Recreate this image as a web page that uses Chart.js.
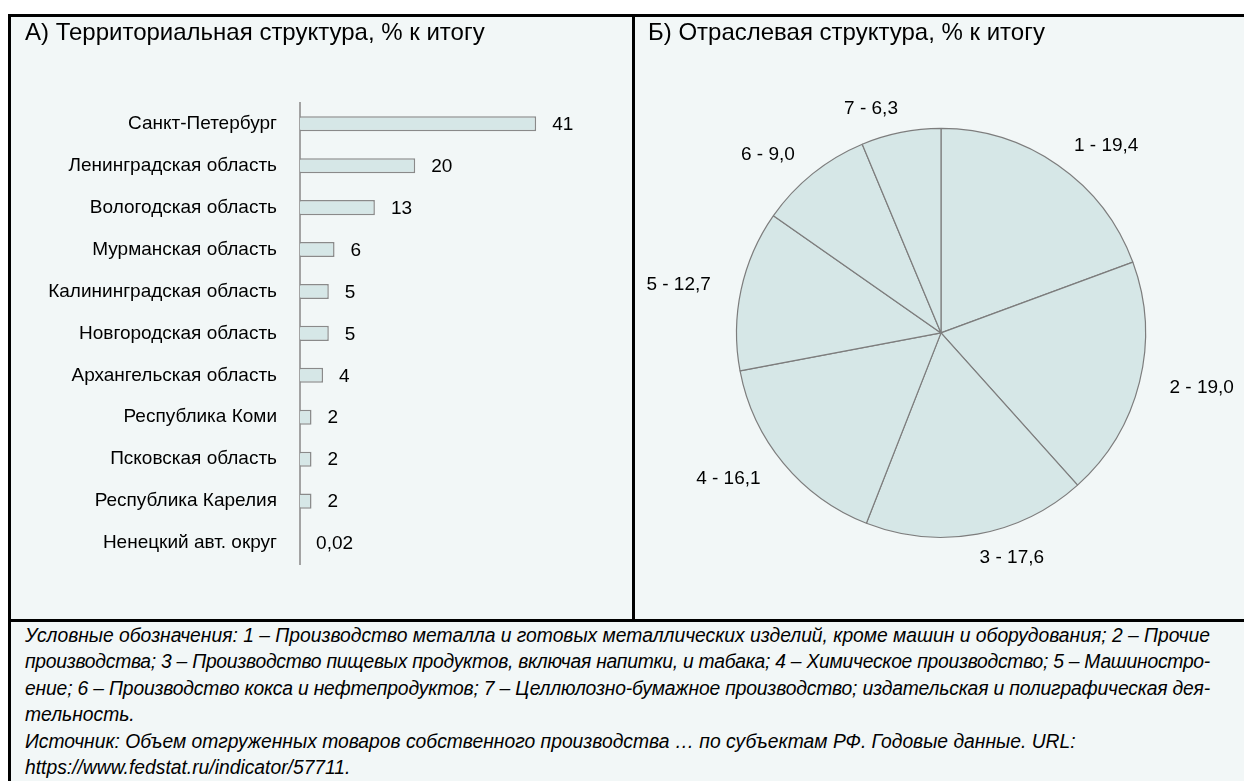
<!DOCTYPE html>
<html lang="ru">
<head>
<meta charset="utf-8">
<script src="https://cdn.jsdelivr.net/npm/chart.js@4.4.1/dist/chart.umd.min.js"></script>
<style>
  body { margin: 0; background: #fff; font-family: "Liberation Sans", Arial, sans-serif; }
  #page { position: relative; width: 1244px; height: 781px; overflow: hidden; }
  #frame { position: absolute; left: 8px; top: 14px; width: 1260px; height: 800px;
           border-left: 3px solid #000; border-top: 3px solid #000; background: #f2f7f7; }
  #divV { position: absolute; left: 632px; top: 14px; width: 3px; height: 608px; background: #000; }
  #divH { position: absolute; left: 8px; top: 619px; width: 1260px; height: 3px; background: #000; }
  #regionChart { position: absolute; left: 11px; top: 17px; }
  #sectorChart { position: absolute; left: 635px; top: 17px; }
  #notes { position: absolute; left: 25px; top: 623px; width: 1185px; color: #000;
           font-style: italic; font-size: 19.3px; line-height: 26.4px; white-space: nowrap; }
  #notes .j { text-align: justify; text-align-last: justify; }
</style>
</head>
<body>
<div id="page">
  <div id="frame"></div>
  <div id="divV"></div>
  <div id="divH"></div>
  <canvas id="regionChart" width="621" height="602"></canvas>
  <canvas id="sectorChart" width="609" height="602"></canvas>
  <div id="notes">
    <div class="j">Условные обозначения: 1 – Производство металла и готовых металлических изделий, кроме машин и оборудования; 2 – Прочие</div>
    <div class="j">производства; 3 – Производство пищевых продуктов, включая напитки, и табака; 4 – Химическое производство; 5 – Машиностро-</div>
    <div class="j">ение; 6 – Производство кокса и нефтепродуктов; 7 – Целлюлозно-бумажное производство; издательская и полиграфическая дея-</div>
    <div>тельность.</div>
    <div>Источник: Объем отгруженных товаров собственного производства … по субъектам РФ. Годовые данные. URL:</div>
    <div>https://www.fedstat.ru/indicator/57711.</div>
  </div>
</div>
<script>
// A) регионы, % к итогу
const regions = ['Санкт-Петербург', 'Ленинградская область', 'Вологодская область', 'Мурманская область',
  'Калининградская область', 'Новгородская область', 'Архангельская область', 'Республика Коми',
  'Псковская область', 'Республика Карелия', 'Ненецкий авт. округ'];
const regionShares = [41, 20, 13, 6, 5, 5, 4, 2, 2, 2, 0.02];

// Б) отрасли, % к итогу
const sectorNames = ['1', '2', '3', '4', '5', '6', '7'];
const sectorShares = [19.4, 19.0, 17.6, 16.1, 12.7, 9.0, 6.3];

const FONT = '"Liberation Sans", Arial, sans-serif';
const fill = '#d6e7e7';
const edge = '#8a8a8a';

function fmt(v, digits) {
  const s = digits === undefined ? String(v) : v.toFixed(digits);
  return s.replace('.', ',');
}

// squeeze justified footnote lines that are a bit too long for the box
(function fitNotes() {
  const box = document.getElementById('notes');
  const ctx = document.createElement('canvas').getContext('2d');
  ctx.font = 'italic 19.3px ' + FONT;
  box.querySelectorAll('.j').forEach(line => {
    const text = line.textContent.trim();
    const extra = box.clientWidth - ctx.measureText(text).width;
    if (extra < 0) line.style.letterSpacing = (extra / text.length) + 'px';
  });
})();

// value labels to the right of the bars
const barLabels = {
  id: 'barLabels',
  afterDatasetsDraw(chart) {
    const ctx = chart.ctx;
    const meta = chart.getDatasetMeta(0);
    ctx.save();
    ctx.font = '19px ' + FONT;
    ctx.fillStyle = '#000';
    ctx.textAlign = 'left';
    ctx.textBaseline = 'middle';
    meta.data.forEach((bar, i) => {
      ctx.fillText(fmt(regionShares[i]), bar.x + 16, bar.y + 1);
    });
    ctx.restore();
  }
};

// "n - value" labels outside the pie
const pieLabels = {
  id: 'pieLabels',
  afterDatasetsDraw(chart) {
    const ctx = chart.ctx;
    const meta = chart.getDatasetMeta(0);
    ctx.save();
    ctx.font = '19px ' + FONT;
    ctx.fillStyle = '#000';
    ctx.textAlign = 'center';
    ctx.textBaseline = 'middle';
    meta.data.forEach((arc, i) => {
      const mid = (arc.startAngle + arc.endAngle) / 2;
      const text = sectorNames[i] + ' - ' + fmt(sectorShares[i], 1);
      const w = ctx.measureText(text).width;
      const dx = Math.cos(mid), dy = Math.sin(mid);
      const x = arc.x + dx * (arc.outerRadius + 35) + Math.sign(dx) * (w / 2 - 4);
      const y = arc.y + dy * (arc.outerRadius + 24);
      ctx.fillText(text, x, y);
    });
    ctx.restore();
  }
};

const titleFont = { family: FONT, size: 24, weight: 'normal', lineHeight: 1.2 };

new Chart(document.getElementById('regionChart'), {
  type: 'bar',
  data: {
    labels: regions,
    datasets: [{
      data: regionShares,
      backgroundColor: fill,
      borderColor: edge,
      borderWidth: 1.5,
      borderSkipped: 'start',
      barPercentage: 0.36,
      categoryPercentage: 1
    }]
  },
  options: {
    indexAxis: 'y',
    responsive: false,
    animation: false,
    layout: { padding: { left: 14, top: 2, right: 44, bottom: 55 } },
    plugins: {
      legend: { display: false },
      tooltip: { enabled: false },
      title: {
        display: true, align: 'start', color: '#000',
        text: 'А) Территориальная структура, % к итогу',
        font: titleFont, padding: { top: 0, bottom: 55 }
      }
    },
    scales: {
      x: { display: false, min: 0, max: 50 },
      y: {
        afterFit(scale) { scale.width = 275; },
        grid: { display: false, drawTicks: false },
        border: { display: true, color: '#a3a3a3', width: 2 },
        ticks: { padding: 23, color: '#000', font: { family: FONT, size: 19 } }
      }
    }
  },
  plugins: [barLabels]
});

new Chart(document.getElementById('sectorChart'), {
  type: 'pie',
  data: {
    labels: sectorNames,
    datasets: [{
      data: sectorShares,
      backgroundColor: fill,
      borderColor: '#7d7d7d',
      borderWidth: 1.2
    }]
  },
  options: {
    responsive: false,
    animation: false,
    layout: { padding: { left: 13, top: 2, right: 10, bottom: 81 } },
    plugins: {
      legend: { display: false },
      tooltip: { enabled: false },
      title: {
        display: true, align: 'start', color: '#000',
        text: 'Б) Отраслевая структура, % к итогу',
        font: titleFont, padding: { top: 0, bottom: 80 }
      }
    }
  },
  plugins: [pieLabels]
});
</script>
</body>
</html>
